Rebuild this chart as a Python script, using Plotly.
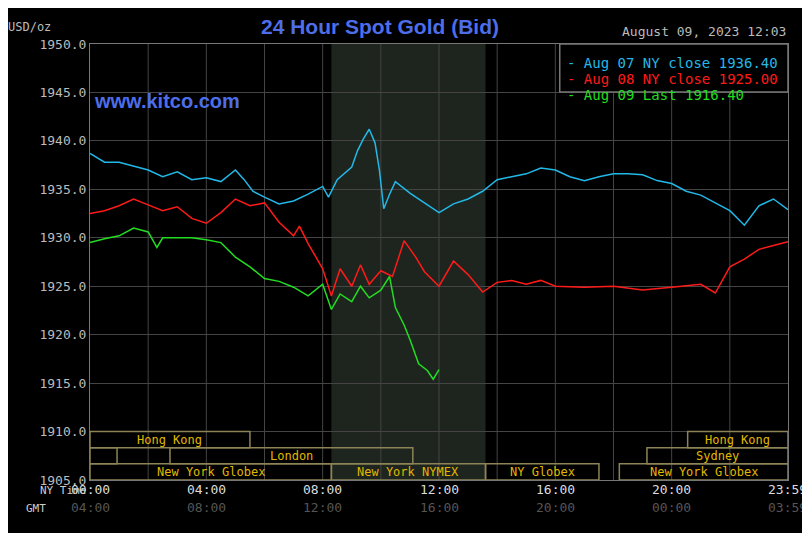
import plotly.graph_objects as go

# hours since NY midnight
aug07_t = [0, 0.5, 1, 1.5, 2, 2.5, 3, 3.5, 4, 4.5, 5, 5.3, 5.6, 6, 6.5, 7, 7.5, 8, 8.2, 8.5, 9, 9.2,
           9.4, 9.6, 9.8, 9.95, 10.1, 10.3, 10.5, 11, 11.5, 12, 12.5, 13, 13.5, 14, 14.5, 15, 15.5,
           16, 16.5, 17, 17.5, 18, 18.5, 19, 19.5, 20, 20.5, 21, 21.5, 22, 22.5, 23, 23.5, 24]
aug07_v = [1938.7, 1937.8, 1937.8, 1937.4, 1937.0, 1936.3, 1936.8, 1936.0, 1936.2, 1935.8, 1937.0,
           1936.0, 1934.8, 1934.2, 1933.5, 1933.8, 1934.5, 1935.3, 1934.2, 1936.0, 1937.3, 1939.0,
           1940.2, 1941.2, 1939.8, 1937.0, 1933.0, 1934.5, 1935.8, 1934.6, 1933.6, 1932.6, 1933.5,
           1934.0, 1934.8, 1936.0, 1936.3, 1936.6, 1937.2, 1937.0, 1936.3, 1935.9, 1936.3, 1936.6,
           1936.6, 1936.5, 1935.9, 1935.6, 1934.8, 1934.4, 1933.6, 1932.8, 1931.3, 1933.3, 1934.0, 1932.9]

aug08_t = [0, 0.5, 1, 1.5, 2, 2.5, 3, 3.5, 4, 4.5, 5, 5.5, 6, 6.5, 7, 7.2, 7.5, 8, 8.3, 8.6, 9, 9.3,
           9.6, 10, 10.4, 10.8, 11.2, 11.5, 12, 12.5, 13, 13.5, 14, 14.5, 15, 15.5, 16, 17, 18, 19,
           20, 21, 21.5, 22, 22.5, 23, 23.5, 24]
aug08_v = [1932.5, 1932.8, 1933.3, 1934.0, 1933.4, 1932.8, 1933.2, 1932.0, 1931.5, 1932.6, 1934.0,
           1933.3, 1933.6, 1931.6, 1930.2, 1931.2, 1929.4, 1926.8, 1924.0, 1926.8, 1925.0, 1927.2,
           1925.2, 1926.6, 1926.0, 1929.7, 1928.0, 1926.5, 1925.0, 1927.6, 1926.2, 1924.4, 1925.4,
           1925.6, 1925.2, 1925.6, 1925.0, 1924.9, 1925.0, 1924.6, 1924.9, 1925.2, 1924.3, 1927.0,
           1927.8, 1928.8, 1929.2, 1929.6]

aug09_t = [0, 0.5, 1, 1.5, 2, 2.3, 2.5, 3, 3.5, 4, 4.5, 5, 5.5, 6, 6.5, 7, 7.5, 8, 8.3, 8.6, 9, 9.3,
           9.6, 10, 10.3, 10.5, 10.8, 11, 11.3, 11.6, 11.8, 12]
aug09_v = [1929.5, 1929.9, 1930.2, 1931.0, 1930.6, 1929.0, 1930.0, 1930.0, 1930.0, 1929.8, 1929.5,
           1928.0, 1927.0, 1925.8, 1925.5, 1924.9, 1924.0, 1925.2, 1922.6, 1924.2, 1923.4, 1925.0,
           1923.8, 1924.6, 1926.0, 1922.8, 1921.0, 1919.5, 1917.0, 1916.3, 1915.4, 1916.4]

sessions = [  # (row, start, end, label)
    (0, 0, 5.5, "Hong Kong"), (0, 20.55, 24, "Hong Kong"),
    (1, 0, 0.93, ""), (1, 2.75, 11.1, "London"), (1, 19.15, 24, "Sydney"),
    (2, 0, 8.3, "New York Globex"), (2, 8.3, 13.6, "New York NYMEX"),
    (2, 13.6, 17.5, "NY Globex"), (2, 18.2, 24, "New York Globex"),
]
x_ticks = [0, 4, 8, 12, 16, 20, 23.98]
ny_labels = ["00:00", "04:00", "08:00", "12:00", "16:00", "20:00", "23:59"]
gmt_labels = ["04:00", "08:00", "12:00", "16:00", "20:00", "00:00", "03:59"]
y_ticks = [1905, 1910, 1915, 1920, 1925, 1930, 1935, 1940, 1945, 1950]

MONO = "DejaVu Sans Mono"
fig = go.Figure()
fig.add_trace(go.Scatter(x=aug07_t, y=aug07_v, mode="lines", line=dict(color="#22b8e8", width=1.5)))
fig.add_trace(go.Scatter(x=aug08_t, y=aug08_v, mode="lines", line=dict(color="#ff1a1a", width=1.5)))
fig.add_trace(go.Scatter(x=aug09_t, y=aug09_v, mode="lines", line=dict(color="#22dd22", width=1.5)))

# NYMEX shaded hours
fig.add_vrect(x0=8.3, x1=13.6, fillcolor="#1e241e", line_width=0, layer="below")

row_h = 5 / 3
for row, s, e, lab in sessions:
    y1 = 1910 - row * row_h
    fig.add_shape(type="rect", x0=s, x1=e, y0=y1 - row_h, y1=y1,
                  line=dict(color="#8c8456", width=1.5))
    if lab:
        fig.add_annotation(x=(s + e) / 2, y=y1 - row_h / 2, text=lab, showarrow=False,
                           font=dict(family=MONO, size=12, color="#e0b800"))

for t, n, g in zip(x_ticks, ny_labels, gmt_labels):
    fig.add_annotation(x=t, y=-0.044, xref="x", yref="paper", text=n, showarrow=False,
                       font=dict(family=MONO, size=13, color="#dddddd"))
    fig.add_annotation(x=t, y=-0.084, xref="x", yref="paper", text=g, showarrow=False,
                       font=dict(family=MONO, size=13, color="#555555"))
fig.add_annotation(x=-0.003, y=-0.044, xref="paper", yref="paper", text="NY Time", showarrow=False,
                   xanchor="right", font=dict(family=MONO, size=11, color="#cccccc"))
fig.add_annotation(x=-0.06, y=-0.084, xref="paper", yref="paper", text="GMT", showarrow=False,
                   xanchor="right", font=dict(family=MONO, size=11, color="#cccccc"))
fig.add_annotation(x=-0.12, y=1.06, xref="paper", yref="paper", text="USD/oz", showarrow=False,
                   xanchor="left", font=dict(family=MONO, size=12, color="#bbbbbb"))
fig.add_annotation(x=0.415, y=1.07, xref="paper", yref="paper", text="<b>24 Hour Spot Gold (Bid)</b>",
                   showarrow=False, font=dict(family="Liberation Sans", size=21, color="#4d6ee8"))
fig.add_annotation(x=1.0, y=1.05, xref="paper", yref="paper", text="August 09, 2023 12:03",
                   showarrow=False, xanchor="right", font=dict(family=MONO, size=13, color="#bbbbbb"))
fig.add_annotation(x=0.003, y=0.9, xref="paper", yref="paper", text="<b>www.kitco.com</b>",
                   showarrow=False, xanchor="left", font=dict(family="Liberation Sans", size=20, color="#4d6ee8"))

legend_lines = [("- Aug 07 NY close 1936.40", "#22b8e8"), ("- Aug 08 NY close 1925.00", "#ff1a1a"),
                ("- Aug 09 Last 1916.40", "#22dd22")]
fig.add_shape(type="rect", xref="paper", yref="paper", x0=0.673, x1=1.0, y0=0.89, y1=1.0,
              line=dict(color="#777777", width=1.5), fillcolor="black")
for i, (txt, c) in enumerate(legend_lines):
    fig.add_annotation(x=0.68, y=0.98 - i * 0.037, xref="paper", yref="paper", text=txt,
                       showarrow=False, xanchor="left", font=dict(family=MONO, size=14, color=c))

fig.update_layout(
    width=800, height=525, showlegend=False,
    paper_bgcolor="black", plot_bgcolor="black",
    margin=dict(l=82, r=20, t=36, b=53),
    xaxis=dict(range=[0, 24], showticklabels=False,
               showgrid=False, zeroline=False, showline=True, linecolor="#777777", mirror=True,
               ticks=""),
    yaxis=dict(range=[1905, 1950], tickvals=y_ticks, ticktext=[f"{v:.1f}" for v in y_ticks],
               tickfont=dict(family=MONO, size=13, color="#bbbbbb"),
               gridcolor="#444444", zeroline=False, showline=True, linecolor="#777777", mirror=True,
               ticks=""),
)
for h in range(2, 24, 2):
    fig.add_vline(x=h, line=dict(color="#444444", width=1), layer="below")

fig.write_html("out.html")
